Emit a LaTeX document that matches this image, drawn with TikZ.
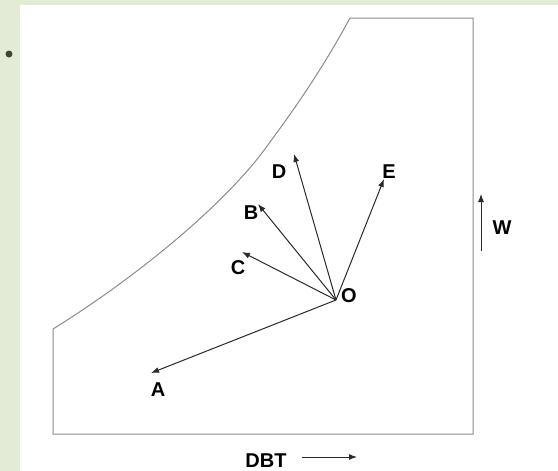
\documentclass[tikz,border=0pt]{standalone}
\usepackage{fontspec}
\setmainfont{Liberation Sans}
\usetikzlibrary{arrows.meta}
\definecolor{bggreen}{HTML}{E3EBD6}
\definecolor{bullet}{HTML}{3E4A32}
\definecolor{boxgray}{HTML}{8C8C8C}
\definecolor{arrowc}{HTML}{2A2A2A}
\tikzset{
  lbl/.style={font=\fontsize{20}{23}\selectfont\bfseries, text=black, inner sep=0pt},
  vec/.style={draw=arrowc, line width=1pt, -{Latex[length=8pt,width=6pt]}},
  outline/.style={draw=boxgray, line width=1pt}
}
\begin{document}
\begin{tikzpicture}[x=1pt,y=-1pt]
\useasboundingbox (0,0) rectangle (558,471);
\fill[bggreen] (0,0) rectangle (558,471);
\fill[white] (20,5) rectangle (558,471);
\fill[bullet] (9,54) circle (3.5);
% chart outline
\draw[outline] (350,18) -- (473,18) -- (473,434) -- (53,434) -- (53,329)
  .. controls (140,275) and (230,200) .. (270,142)
  .. controls (305,95) and (330,55) .. (350,18);
% origin and tips
\coordinate (O) at (336,300);
\coordinate (tA) at (151,373);
\coordinate (tB) at (258,204);
\coordinate (tC) at (242,252);
\coordinate (tD) at (294,154);
\coordinate (tE) at (384,179);
\draw[vec] (O) -- (tA);
\draw[vec] (O) -- (tB);
\draw[vec] (O) -- (tC);
\draw[vec] (O) -- (tD);
\draw[vec] (O) -- (tE);
\node[lbl] (lO) at (349,296) {O};
\node[lbl] (lA) at (158,390) {A};
\node[lbl] (lB) at (251,213) {B};
\node[lbl] (lC) at (238,268) {C};
\node[lbl] (lD) at (279,172) {D};
\node[lbl] (lE) at (389,172) {E};
% W axis
\coordinate (w1) at (481,251);
\coordinate (w2) at (481,194);
\draw[vec] (w1) -- (w2);
\node[lbl] (lW) at (502,228) {W};
% DBT axis
\node[lbl] (lDBT) at (266,461) {DBT};
\coordinate (d1) at (302,457);
\coordinate (d2) at (357,457);
\draw[vec] (d1) -- (d2);
\end{tikzpicture}
\end{document}
